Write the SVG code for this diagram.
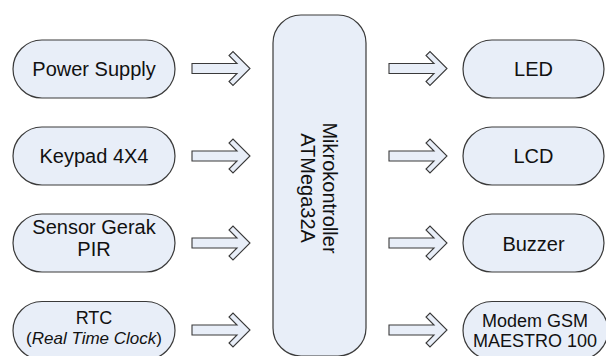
<svg xmlns="http://www.w3.org/2000/svg" width="606" height="356" viewBox="0 0 606 356">
  <style>
    .box { fill: #E8EEF8; stroke: #3a3a3a; stroke-width: 1.2; }
    .arrow { fill: #E8EEF8; stroke: #3a3a3a; stroke-width: 1.1; stroke-linejoin: miter; }
    text { font-family: "Liberation Sans", Arial, sans-serif; fill: #111; text-anchor: middle; }
    .t20 { font-size: 20px; }
    .t18 { font-size: 18px; }
    .t17 { font-size: 17px; }
  </style>
  <defs>
    <!-- block arrow with open chevron head, origin at shaft centre-left -->
    <path id="blockArrow" d="M0,-5 L45,-5 L37,-13 L41,-17 L58,0 L41,17 L37,13 L45,5 L0,5 Z"/>
  </defs>
  <rect width="606" height="356" fill="#ffffff"/>

  <!-- inputs -->
  <g id="power-supply">
    <rect class="box" x="13" y="40" width="162" height="58" rx="29"/>
    <text class="t20" x="94" y="75.5">Power Supply</text>
  </g>
  <g id="keypad">
    <rect class="box" x="13" y="127" width="162" height="58" rx="29"/>
    <text class="t20" x="94" y="162.5">Keypad 4X4</text>
  </g>
  <g id="sensor-pir">
    <rect class="box" x="13" y="214" width="162" height="58" rx="29"/>
    <text class="t20" x="94" y="233.5">Sensor Gerak</text>
    <text class="t20" x="94" y="255.5">PIR</text>
  </g>
  <g id="rtc">
    <rect class="box" x="13" y="301.5" width="162" height="58" rx="29"/>
    <text class="t18" x="94" y="324">RTC</text>
    <text class="t17" x="94" y="344">(<tspan font-style="italic">Real Time Clock</tspan>)</text>
  </g>

  <!-- controller -->
  <g id="mikrokontroller">
    <rect class="box" x="273" y="15" width="93" height="341" rx="28"/>
    <text class="t20" transform="rotate(90 319 188)" x="319" y="184">Mikrokontroller</text>
    <text class="t20" transform="rotate(90 319 188)" x="319" y="206">ATMega32A</text>
  </g>

  <!-- outputs -->
  <g id="led">
    <rect class="box" x="463" y="40" width="141" height="58" rx="29"/>
    <text class="t20" x="533.5" y="75.5">LED</text>
  </g>
  <g id="lcd">
    <rect class="box" x="463" y="127" width="141" height="58" rx="29"/>
    <text class="t20" x="533.5" y="162.5">LCD</text>
  </g>
  <g id="buzzer">
    <rect class="box" x="463" y="214" width="141" height="58" rx="29"/>
    <text class="t20" x="533.5" y="250.5">Buzzer</text>
  </g>
  <g id="modem-gsm">
    <rect class="box" x="463" y="301.5" width="145" height="58" rx="29"/>
    <text class="t18" x="535" y="327">Modem GSM</text>
    <text class="t18" x="535" y="347">MAESTRO 100</text>
  </g>

  <!-- connectors -->
  <g id="connectors">
    <use href="#blockArrow" class="arrow" transform="translate(192,68.5)"/>
    <use href="#blockArrow" class="arrow" transform="translate(192,156)"/>
    <use href="#blockArrow" class="arrow" transform="translate(192,243)"/>
    <use href="#blockArrow" class="arrow" transform="translate(192,330)"/>
    <use href="#blockArrow" class="arrow" transform="translate(389,68.5)"/>
    <use href="#blockArrow" class="arrow" transform="translate(389,156)"/>
    <use href="#blockArrow" class="arrow" transform="translate(389,243)"/>
    <use href="#blockArrow" class="arrow" transform="translate(389,330)"/>
  </g>
</svg>
